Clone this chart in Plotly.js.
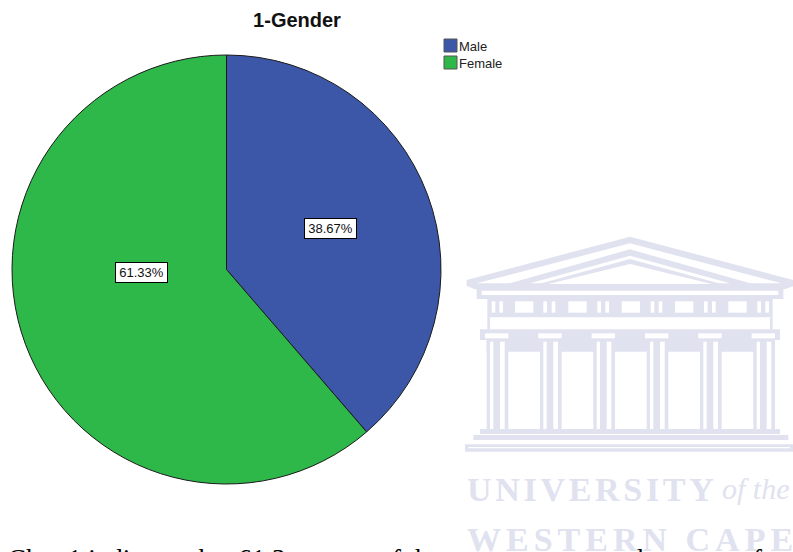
<!DOCTYPE html>
<html>
<head>
<meta charset="utf-8">
<script src="https://cdn.plot.ly/plotly-3.0.1.min.js"></script>
<style>
html,body{margin:0;padding:0;background:#fff;overflow:hidden}
#chart{width:793px;height:552px}
.annotation[data-index="4"] text{letter-spacing:3.7px}
.annotation[data-index="6"] text{letter-spacing:5px}
</style>
</head>
<body>
<div id="chart"></div>
<script>
var chartTitle = '1-Gender';
var categories = ['Male', 'Female'];
var shares = [38.67, 61.33];
var sliceColors = ['#3d57a8', '#2fb84a'];
var watermarkLines = ['UNIVERSITY', 'of the', 'WESTERN CAPE'];
var captionParts = ['Chart1 indicates that 61.3 percent of the', 'respondents were female'];

var W = 793, H = 552;
var WM = '#e0e2ef';
var fx = function (x) { return x / W; };
var fy = function (y) { return 1 - y / H; };

function poly(pts, color) {
  var d = pts.map(function (p, i) {
    return (i ? 'L' : 'M') + fx(p[0]).toFixed(5) + ',' + fy(p[1]).toFixed(5);
  }).join(' ') + ' Z';
  return { type: 'path', xref: 'paper', yref: 'paper', path: d, fillcolor: color, line: { width: 0 }, layer: 'below' };
}
// watermark geometry is authored in a 3x crop space
function z(p) { return [460 + p[0] / 3, 230 + p[1] / 3]; }
function zpoly(pts, color) { return poly(pts.map(z), color); }
function zrect(x0, y0, x1, y1, color) { return zpoly([[x0, y0], [x1, y0], [x1, y1], [x0, y1]], color); }

var shapes = [];
// pediment
shapes.push(zpoly([[510, 20], [1000, 150], [1000, 168], [975, 178], [45, 178], [20, 168], [20, 150]], WM));
shapes.push(zpoly([[510, 40], [965, 160], [50, 160]], '#fff'));
shapes.push(zpoly([[510, 58], [890, 165], [130, 165]], WM));
shapes.push(zpoly([[510, 77], [810, 160], [210, 160]], '#fff'));
shapes.push(zpoly([[510, 87], [795, 165], [225, 165]], WM));
shapes.push(zpoly([[510, 102], [755, 162], [265, 162]], '#fff'));
// cornice
shapes.push(zrect(50, 175, 970, 207, WM));
shapes.push(zrect(65, 182, 955, 195, '#fff'));
// frieze
shapes.push(zrect(82, 207, 938, 262, WM));
[165, 325, 485, 645, 805].forEach(function (x) { shapes.push(zrect(x, 214, x + 55, 248, '#fff')); });
[95, 118, 250, 275, 412, 436, 572, 596, 732, 756, 892, 916].forEach(function (x) { shapes.push(zrect(x, 214, x + 11, 248, '#fff')); });
// frieze side strips around the plain band
shapes.push(zrect(82, 262, 90, 298, WM));
shapes.push(zrect(930, 262, 938, 298, WM));
// capital band
shapes.push(zrect(60, 298, 960, 330, WM));
shapes.push(zrect(80, 330, 940, 365, WM));
// columns
[78, 238, 398, 558, 718, 878].forEach(function (x) {
  shapes.push(zrect(x - 3, 310, x + 67, 325, '#fff'));
  shapes.push(zrect(x + 2, 330, x + 67, 597, WM));
  shapes.push(zrect(x + 12, 335, x + 22, 597, '#fff'));
  shapes.push(zrect(x + 42, 335, x + 56, 597, '#fff'));
});
// steps
shapes.push(zrect(60, 597, 960, 612, WM));
shapes.push(zrect(40, 615, 985, 630, WM));
shapes.push(zrect(15, 643, 1000, 665, WM));
shapes.push(zrect(25, 651, 990, 655, '#fff'));

// legend swatches
function swatch(y0, color) {
  return { type: 'rect', xref: 'paper', yref: 'paper', x0: fx(444), x1: fx(457), y0: fy(y0), y1: fy(y0 + 13),
           fillcolor: color, line: { color: '#555', width: 1 } };
}
shapes.push(swatch(39, sliceColors[0]));
shapes.push(swatch(56, sliceColors[1]));

function pct(v) { return v.toFixed(2) + '%'; }
function boxLabel(text, px, py) {
  return { text: text, xref: 'paper', yref: 'paper', x: fx(px), y: fy(py), showarrow: false,
           xanchor: 'center', yanchor: 'middle', width: 51, height: 19, borderpad: 0,
           bgcolor: '#fff', bordercolor: '#000', borderwidth: 1,
           font: { family: 'Liberation Sans', size: 13, color: '#111' } };
}
function legendLabel(text, py) {
  return { text: text, xref: 'paper', yref: 'paper', x: fx(459), y: fy(py), showarrow: false,
           xanchor: 'left', yanchor: 'middle', borderpad: 0, borderwidth: 0,
           font: { family: 'Liberation Sans', size: 13, color: '#222' } };
}
function freeText(text, px, top, size, color, bold, italic) {
  return { text: bold ? '<b>' + text + '</b>' : (italic ? '<i>' + text + '</i>' : text),
           xref: 'paper', yref: 'paper', x: fx(px), y: fy(top), showarrow: false,
           xanchor: 'left', yanchor: 'top', borderpad: 0, borderwidth: 0, align: 'left',
           font: { family: 'Liberation Serif', size: size, color: color } };
}

var annotations = [
  boxLabel(pct(shares[0]), 330, 228),
  boxLabel(pct(shares[1]), 141, 272.5),
  legendLabel(categories[0], 46),
  legendLabel(categories[1], 63.5),
  freeText(watermarkLines[0], 467, 471, 34, WM, true, false),
  freeText(watermarkLines[1], 722, 472, 30, WM, false, true),
  freeText(watermarkLines[2], 467, 521, 34, WM, true, false),
  freeText(captionParts[0], 8, 544, 27, '#000', false, false),
  freeText(captionParts[1], 558, 544, 27, '#000', false, false)
];

var data = [{
  type: 'pie',
  labels: categories,
  values: shares,
  sort: false,
  direction: 'clockwise',
  rotation: 0,
  marker: { colors: sliceColors, line: { color: '#1a1a1a', width: 1 } },
  textinfo: 'none',
  hoverinfo: 'label+percent',
  showlegend: false,
  domain: { x: [fx(11), fx(442)], y: [fy(484), fy(55)] }
}];

var layout = {
  width: W, height: H,
  margin: { l: 0, r: 0, t: 0, b: 0 },
  paper_bgcolor: '#fff',
  showlegend: false,
  title: { text: '<b>' + chartTitle + '</b>', x: fx(297), xanchor: 'center', y: fy(19.5), yanchor: 'middle',
           font: { family: 'Liberation Sans', size: 20, color: '#111' } },
  shapes: shapes,
  annotations: annotations
};
Plotly.newPlot('chart', data, layout, { displayModeBar: false, responsive: false });
</script>
</body>
</html>
